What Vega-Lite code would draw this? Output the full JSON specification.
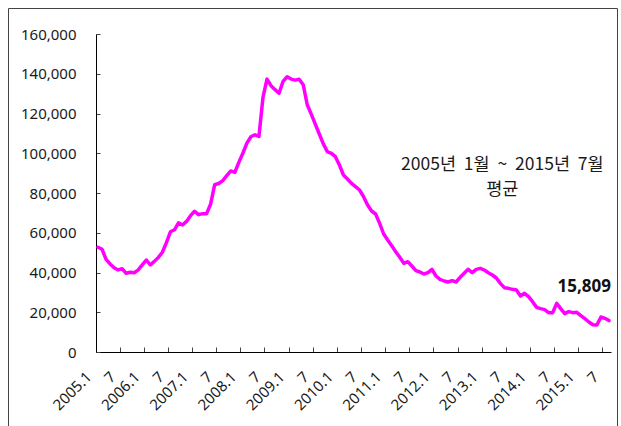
{
  "$schema": "https://vega.github.io/schema/vega-lite/v6.json",
  "width": 609,
  "height": 420,
  "autosize": {"type": "none"},
  "padding": {"left": 8, "top": 8, "right": 4, "bottom": 0},
  "background": "#ffffff",
  "config": {
    "view": {"stroke": "#444444", "strokeWidth": 1},
    "font": "Noto Sans",
    "axis": {"grid": false, "title": null, "domainColor": "#000000", "tickColor": "#444444", "labelColor": "#1a1a1a", "labelFont": "Noto Sans", "labelFontSize": 15}
  },
  "data": {
    "values": [
      {"m": "2005.1", "v": 52700}, {"m": "2005.2", "v": 51700}, {"m": "2005.3", "v": 46600}, {"m": "2005.4", "v": 44300},
      {"m": "2005.5", "v": 42400}, {"m": "2005.6", "v": 41300}, {"m": "2005.7", "v": 41900}, {"m": "2005.8", "v": 39600},
      {"m": "2005.9", "v": 40100}, {"m": "2005.10", "v": 39900}, {"m": "2005.11", "v": 41300}, {"m": "2005.12", "v": 43800},
      {"m": "2006.1", "v": 46300}, {"m": "2006.2", "v": 43800}, {"m": "2006.3", "v": 45600}, {"m": "2006.4", "v": 47600},
      {"m": "2006.5", "v": 50200}, {"m": "2006.6", "v": 55000}, {"m": "2006.7", "v": 60500}, {"m": "2006.8", "v": 61500},
      {"m": "2006.9", "v": 65000}, {"m": "2006.10", "v": 63900}, {"m": "2006.11", "v": 65700}, {"m": "2006.12", "v": 68600},
      {"m": "2007.1", "v": 70800}, {"m": "2007.2", "v": 69100}, {"m": "2007.3", "v": 69600}, {"m": "2007.4", "v": 69600},
      {"m": "2007.5", "v": 74500}, {"m": "2007.6", "v": 84200}, {"m": "2007.7", "v": 84800}, {"m": "2007.8", "v": 86200},
      {"m": "2007.9", "v": 88700}, {"m": "2007.10", "v": 91100}, {"m": "2007.11", "v": 90400}, {"m": "2007.12", "v": 95400},
      {"m": "2008.1", "v": 100000}, {"m": "2008.2", "v": 105100}, {"m": "2008.3", "v": 108300}, {"m": "2008.4", "v": 109300},
      {"m": "2008.5", "v": 108500}, {"m": "2008.6", "v": 128100}, {"m": "2008.7", "v": 137300}, {"m": "2008.8", "v": 134000},
      {"m": "2008.9", "v": 132000}, {"m": "2008.10", "v": 130200}, {"m": "2008.11", "v": 136200}, {"m": "2008.12", "v": 138500},
      {"m": "2009.1", "v": 137300}, {"m": "2009.2", "v": 136800}, {"m": "2009.3", "v": 137200}, {"m": "2009.4", "v": 134500},
      {"m": "2009.5", "v": 124400}, {"m": "2009.6", "v": 119700}, {"m": "2009.7", "v": 114700}, {"m": "2009.8", "v": 109700},
      {"m": "2009.9", "v": 104700}, {"m": "2009.10", "v": 100800}, {"m": "2009.11", "v": 99960}, {"m": "2009.12", "v": 98270},
      {"m": "2010.1", "v": 94080}, {"m": "2010.2", "v": 89050}, {"m": "2010.3", "v": 87040}, {"m": "2010.4", "v": 84860},
      {"m": "2010.5", "v": 83190}, {"m": "2010.6", "v": 81500}, {"m": "2010.7", "v": 78150}, {"m": "2010.8", "v": 73950},
      {"m": "2010.9", "v": 70940}, {"m": "2010.10", "v": 69430}, {"m": "2010.11", "v": 64730}, {"m": "2010.12", "v": 59370},
      {"m": "2011.1", "v": 56350}, {"m": "2011.2", "v": 53500}, {"m": "2011.3", "v": 50480}, {"m": "2011.4", "v": 47630},
      {"m": "2011.5", "v": 44610}, {"m": "2011.6", "v": 45450}, {"m": "2011.7", "v": 43270}, {"m": "2011.8", "v": 40920},
      {"m": "2011.9", "v": 40250}, {"m": "2011.10", "v": 39240}, {"m": "2011.11", "v": 39910}, {"m": "2011.12", "v": 41590},
      {"m": "2012.1", "v": 38240}, {"m": "2012.2", "v": 36560}, {"m": "2012.3", "v": 35720}, {"m": "2012.4", "v": 35220},
      {"m": "2012.5", "v": 35890}, {"m": "2012.6", "v": 35220}, {"m": "2012.7", "v": 37570}, {"m": "2012.8", "v": 39580},
      {"m": "2012.9", "v": 41590}, {"m": "2012.10", "v": 39910}, {"m": "2012.11", "v": 41590}, {"m": "2012.12", "v": 42090},
      {"m": "2013.1", "v": 41260}, {"m": "2013.2", "v": 39910}, {"m": "2013.3", "v": 38740}, {"m": "2013.4", "v": 37230},
      {"m": "2013.5", "v": 34550}, {"m": "2013.6", "v": 32370}, {"m": "2013.7", "v": 32030}, {"m": "2013.8", "v": 31530},
      {"m": "2013.9", "v": 31190}, {"m": "2013.10", "v": 28170}, {"m": "2013.11", "v": 29520}, {"m": "2013.12", "v": 27840},
      {"m": "2014.1", "v": 25320}, {"m": "2014.2", "v": 22470}, {"m": "2014.3", "v": 21800}, {"m": "2014.4", "v": 21300},
      {"m": "2014.5", "v": 19790}, {"m": "2014.6", "v": 19790}, {"m": "2014.7", "v": 24480}, {"m": "2014.8", "v": 21800},
      {"m": "2014.9", "v": 19290}, {"m": "2014.10", "v": 20290}, {"m": "2014.11", "v": 19790}, {"m": "2014.12", "v": 19960},
      {"m": "2015.1", "v": 18280}, {"m": "2015.2", "v": 16770}, {"m": "2015.3", "v": 15090}, {"m": "2015.4", "v": 13750},
      {"m": "2015.5", "v": 13580}, {"m": "2015.6", "v": 17610}, {"m": "2015.7", "v": 16940}, {"m": "2015.8", "v": 15809}
    ]
  },
  "encoding": {
    "x": {
      "field": "m", "type": "ordinal", "sort": null, "bandPosition": 0.5,
      "scale": {"type": "band", "paddingInner": 0, "paddingOuter": 0, "range": [88, 603]},
      "axis": {
        "values": ["2005.1", "2005.7", "2006.1", "2006.7", "2007.1", "2007.7", "2008.1", "2008.7", "2009.1", "2009.7", "2010.1", "2010.7", "2011.1", "2011.7", "2012.1", "2012.7", "2013.1", "2013.7", "2014.1", "2014.7", "2015.1", "2015.7"],
        "labelExpr": "test(/\\.7$/, datum.value) ? '7' : datum.value",
        "bandPosition": 0,
        "offset": -76,
        "labelAngle": -45,
        "labelAlign": "right",
        "labelBaseline": "middle",
        "labelOffset": -9,
        "labelPadding": 27,
        "labelOverlap": false,
        "tickSize": -5
      }
    },
    "y": {
      "field": "v", "type": "quantitative",
      "scale": {"domain": [0, 160000], "nice": false, "range": [344, 26]},
      "axis": {"values": [0, 20000, 40000, 60000, 80000, 100000, 120000, 140000, 160000], "format": ",d", "offset": -88, "tickSize": -4, "labelPadding": 24}
    }
  },
  "layer": [
    {"mark": {"type": "line", "color": "#ff00ff", "strokeWidth": 3.5, "strokeJoin": "round", "strokeCap": "round"}},
    {
      "transform": [{"filter": "datum.m == '2015.8'"}],
      "mark": {"type": "text", "font": "Noto Sans", "fontSize": 17, "fontWeight": "bold", "align": "right", "baseline": "alphabetic", "dx": 2, "dy": -29, "color": "#111111"},
      "encoding": {"text": {"field": "v", "type": "quantitative", "format": ","}}
    },
    {
      "transform": [{"filter": "datum.m == '2013.5'"}],
      "mark": {"type": "text", "font": "Noto Sans CJK KR", "fontSize": 17.5, "align": "center", "baseline": "alphabetic", "dx": 2, "lineHeight": 25, "color": "#1a1a1a", "text": ["2005년\u00a0\u00a01월\u00a0\u00a0~\u00a0\u00a02015년\u00a0\u00a07월", "평균"]},
      "encoding": {"y": {"datum": 91500}}
    }
  ]
}
